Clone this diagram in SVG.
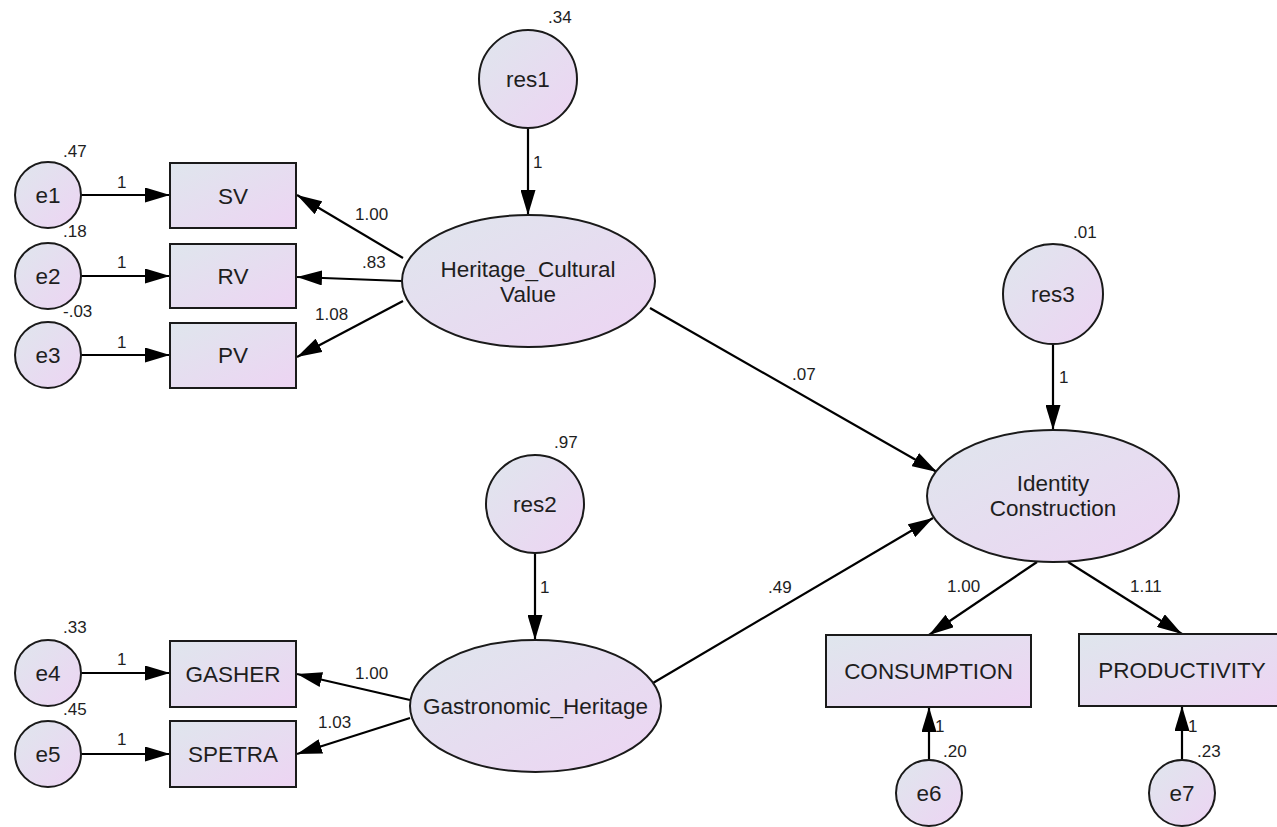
<svg xmlns="http://www.w3.org/2000/svg" width="1277" height="827" viewBox="0 0 1277 827">
<defs>
<linearGradient id="fillg" x1="0" y1="0" x2="1" y2="1">
<stop offset="0" stop-color="#dfe6ed"/>
<stop offset="1" stop-color="#edd4f3"/>
</linearGradient>
<marker id="arr" markerUnits="userSpaceOnUse" markerWidth="25" markerHeight="15" refX="25" refY="7.5" orient="auto">
<path d="M0,0 L25,7.5 L0,15 Z" fill="#000"/>
</marker>
</defs>
<style>
.n{fill:url(#fillg);stroke:#1a1a1a;stroke-width:2}
.t{font-family:"Liberation Sans",Arial,sans-serif;font-size:22.5px;fill:#1e1e1e;text-anchor:middle}
.v{font-family:"Liberation Sans",Arial,sans-serif;font-size:17px;fill:#1e1e1e}
.c{stroke:#000;stroke-width:2.2;fill:none;marker-end:url(#arr)}
</style>
<rect width="1277" height="827" fill="#fff"/>

<g id="connectors">
<line class="c" x1="81" y1="195" x2="170" y2="195"/>
<line class="c" x1="81" y1="276" x2="170" y2="276"/>
<line class="c" x1="81" y1="355" x2="170" y2="355"/>
<line class="c" x1="81" y1="673" x2="170" y2="673"/>
<line class="c" x1="81" y1="754" x2="170" y2="754"/>
<line class="c" x1="528" y1="128" x2="528" y2="215"/>
<line class="c" x1="1053" y1="344" x2="1053" y2="430"/>
<line class="c" x1="535" y1="553" x2="535" y2="640"/>
<line class="c" x1="929" y1="760" x2="929" y2="707"/>
<line class="c" x1="1182" y1="760" x2="1182" y2="706"/>
<line class="c" x1="403" y1="258" x2="297" y2="195"/>
<line class="c" x1="402" y1="281" x2="297" y2="277"/>
<line class="c" x1="403" y1="301" x2="297" y2="357"/>
<line class="c" x1="650" y1="308" x2="937" y2="472"/>
<line class="c" x1="653" y1="683" x2="933" y2="518"/>
<line class="c" x1="410" y1="700" x2="297" y2="674"/>
<line class="c" x1="410" y1="718" x2="297" y2="754"/>
<line class="c" x1="1037" y1="562" x2="929" y2="635"/>
<line class="c" x1="1068" y1="562" x2="1182" y2="634"/>
</g>

<g id="res1"><circle class="n" cx="528" cy="79" r="49"/><text class="t" x="528" y="87">res1</text></g>
<g id="res2"><circle class="n" cx="535" cy="504" r="49"/><text class="t" x="535" y="512">res2</text></g>
<g id="res3"><circle class="n" cx="1053" cy="294" r="50"/><text class="t" x="1053" y="302">res3</text></g>

<g id="e1"><circle class="n" cx="48" cy="195" r="33"/><text class="t" x="48" y="203">e1</text></g>
<g id="e2"><circle class="n" cx="48" cy="276" r="33"/><text class="t" x="48" y="284">e2</text></g>
<g id="e3"><circle class="n" cx="48" cy="355" r="33"/><text class="t" x="48" y="363">e3</text></g>
<g id="e4"><circle class="n" cx="48" cy="673" r="33"/><text class="t" x="48" y="681">e4</text></g>
<g id="e5"><circle class="n" cx="48" cy="754" r="33"/><text class="t" x="48" y="762">e5</text></g>
<g id="e6"><circle class="n" cx="929" cy="793" r="33"/><text class="t" x="929" y="801">e6</text></g>
<g id="e7"><circle class="n" cx="1182" cy="793" r="33"/><text class="t" x="1182" y="801">e7</text></g>

<g id="SV"><rect class="n" x="170" y="163" width="126" height="65"/><text class="t" x="233" y="204">SV</text></g>
<g id="RV"><rect class="n" x="170" y="244" width="126" height="64"/><text class="t" x="233" y="284">RV</text></g>
<g id="PV"><rect class="n" x="170" y="323" width="126" height="65"/><text class="t" x="233" y="363">PV</text></g>
<g id="GASHER"><rect class="n" x="170" y="641" width="126" height="66"/><text class="t" x="233" y="682">GASHER</text></g>
<g id="SPETRA"><rect class="n" x="170" y="721" width="126" height="66"/><text class="t" x="233" y="762">SPETRA</text></g>
<g id="CONSUMPTION"><rect class="n" x="826" y="635" width="205" height="72"/><text class="t" x="928.5" y="679">CONSUMPTION</text></g>
<g id="PRODUCTIVITY"><rect class="n" x="1079" y="634" width="206" height="72"/><text class="t" x="1182" y="678">PRODUCTIVITY</text></g>

<g id="Heritage_Cultural_Value"><ellipse class="n" cx="528.5" cy="281" rx="126.5" ry="66"/><text class="t" x="528" y="277">Heritage_Cultural</text><text class="t" x="528" y="302">Value</text></g>
<g id="Gastronomic_Heritage"><ellipse class="n" cx="535.5" cy="706" rx="125.5" ry="66"/><text class="t" x="535.5" y="714">Gastronomic_Heritage</text></g>
<g id="Identity_Construction"><ellipse class="n" cx="1053" cy="496" rx="126" ry="66"/><text class="t" x="1053" y="491">Identity</text><text class="t" x="1053" y="516">Construction</text></g>

<g id="labels">
<text class="v" x="548" y="23">.34</text>
<text class="v" x="533" y="168">1</text>
<text class="v" x="63" y="157">.47</text>
<text class="v" x="63" y="237">.18</text>
<text class="v" x="63" y="317">-.03</text>
<text class="v" x="117" y="188">1</text>
<text class="v" x="117" y="268">1</text>
<text class="v" x="117" y="348">1</text>
<text class="v" x="355" y="220">1.00</text>
<text class="v" x="362" y="268">.83</text>
<text class="v" x="315" y="320">1.08</text>
<text class="v" x="792" y="380">.07</text>
<text class="v" x="1073" y="238">.01</text>
<text class="v" x="1059" y="383">1</text>
<text class="v" x="554" y="448">.97</text>
<text class="v" x="540" y="593">1</text>
<text class="v" x="768" y="593">.49</text>
<text class="v" x="63" y="633">.33</text>
<text class="v" x="63" y="715">.45</text>
<text class="v" x="117" y="665">1</text>
<text class="v" x="117" y="745">1</text>
<text class="v" x="355" y="679">1.00</text>
<text class="v" x="318" y="728">1.03</text>
<text class="v" x="947" y="592">1.00</text>
<text class="v" x="1130" y="592">1.11</text>
<text class="v" x="935" y="732">1</text>
<text class="v" x="943" y="757">.20</text>
<text class="v" x="1188" y="732">1</text>
<text class="v" x="1197" y="757">.23</text>
</g>
</svg>
